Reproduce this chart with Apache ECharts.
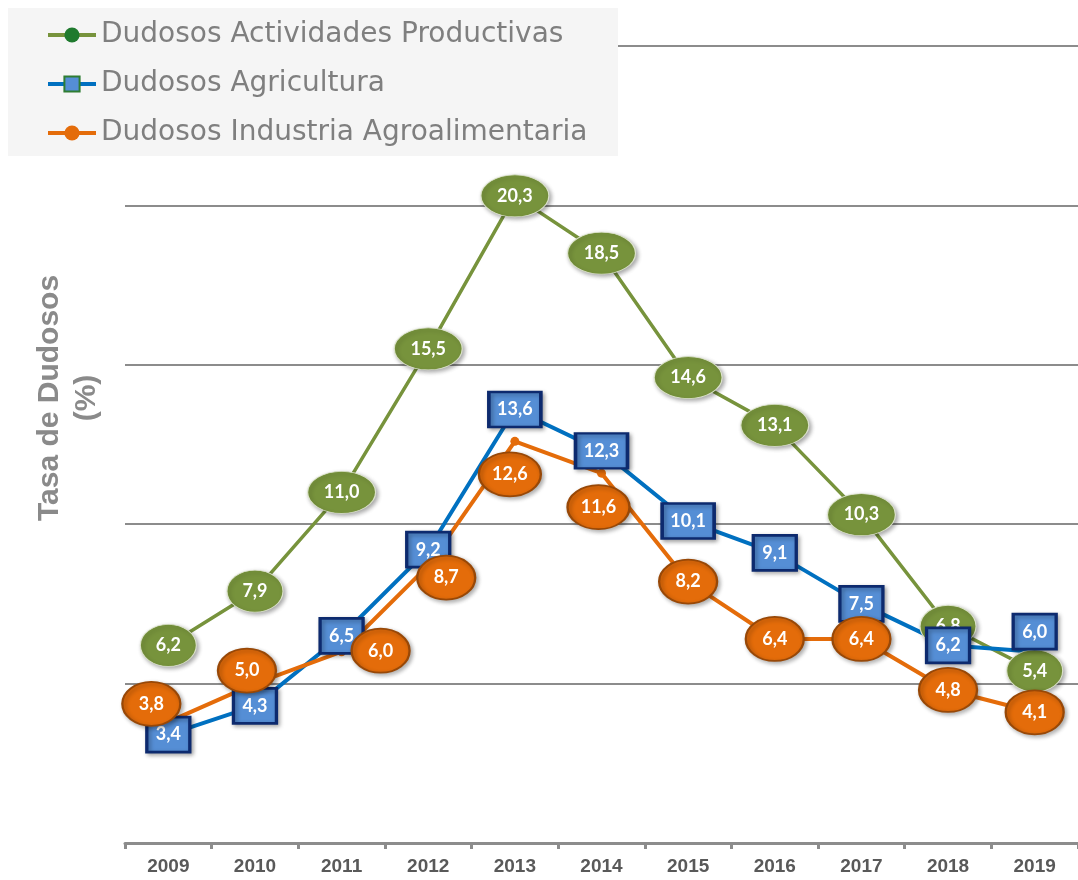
<!DOCTYPE html>
<html><head><meta charset="utf-8">
<script src="https://cdn.jsdelivr.net/npm/echarts@6/dist/echarts.min.js"></script>
<style>html,body{margin:0;padding:0;background:#fff}#c{width:1078px;height:880px}</style>
</head><body><div id="c"></div>
<script>
const years = ['2009', '2010', '2011', '2012', '2013', '2014', '2015', '2016', '2017', '2018', '2019'];
const actividades = [6.2, 7.9, 11.0, 15.5, 20.3, 18.5, 14.6, 13.1, 10.3, 6.8, 5.4];
const agricultura = [3.4, 4.3, 6.5, 9.2, 13.6, 12.3, 10.1, 9.1, 7.5, 6.2, 6.0];
const industria = [3.8, 5.0, 6.0, 8.7, 12.6, 11.6, 8.2, 6.4, 6.4, 4.8, 4.1];
const names = ['Dudosos Actividades Productivas', 'Dudosos Agricultura', 'Dudosos Industria Agroalimentaria'];

// pixel shifts of the label bubbles that the reference moves off their points
const industriaShift = {0: [-17, -18], 1: [-8, -13], 2: [39, -1], 3: [18, 12], 4: [-5, 33], 5: [-3, 34]};
const agriculturaShift = {10: [0, -20]};
const actividadesShift = {};

const ellipse = 'path://M0,50A50,50 0 1,1 100,50A50,50 0 1,1 0,50Z';
const fmt = p => Number(p.value).toFixed(1).replace('.', ',');

function bubbles(values, shift, small, big) {
  return values.map((v, i) => {
    const d = { value: v, symbolSize: v >= 10 ? big : small };
    if (shift[i]) d.symbolOffset = shift[i];
    return d;
  });
}

const labelStyle = { show: true, position: 'inside', color: '#ffffff', fontFamily: 'Lato', fontWeight: 'bold', fontSize: 18, formatter: fmt };
const noShadow = { shadowBlur: 0, shadowOffsetX: 0, shadowOffsetY: 0 };

const chart = echarts.init(document.getElementById('c'));
chart.setOption({
  animation: false,
  backgroundColor: '#ffffff',
  grid: { left: 125, top: 46, width: 960, height: 797, containLabel: false },
  graphic: [
    { type: 'rect', z: 3, shape: { x: 8, y: 8, width: 610, height: 148 }, style: { fill: '#f5f5f5' } },
    { type: 'text', z: 3, x: 68, y: 398, rotation: Math.PI / 2,
      style: { text: 'Tasa de Dudosos\n(%)', font: 'bold 30px "Liberation Sans", Arial', fill: '#8a8a8a',
               align: 'center', verticalAlign: 'middle', lineHeight: 37 } }
  ],
  legend: {
    orient: 'vertical', left: 46, top: 20, padding: 0, z: 10,
    itemWidth: 48, itemHeight: 19, itemGap: 19,
    textStyle: { fontFamily: 'DejaVu Sans', fontSize: 28, color: '#7f7f7f', lineHeight: 30 },
    data: [
      { name: names[0], itemStyle: Object.assign({ color: '#1f7a2e', borderWidth: 0, opacity: 1 }, noShadow), lineStyle: { color: '#77933c', width: 4 } },
      { name: names[1], itemStyle: Object.assign({ color: '#558ed5', borderColor: '#2e7d32', borderWidth: 2, opacity: 1 }, noShadow), lineStyle: { color: '#0070c0', width: 4 } },
      { name: names[2], itemStyle: Object.assign({ color: '#e46c0a', borderWidth: 0, opacity: 1 }, noShadow), lineStyle: { color: '#e46c0a', width: 4 } }
    ]
  },
  xAxis: {
    type: 'category', data: years, boundaryGap: true,
    axisLine: { lineStyle: { color: '#8c8c8c', width: 3 } },
    axisTick: { show: true, length: 6, lineStyle: { color: '#8c8c8c', width: 3 } },
    axisLabel: { margin: 14, color: '#595959', fontFamily: '"Liberation Sans", Arial', fontWeight: 'bold', fontSize: 19 },
    splitLine: { show: false }
  },
  yAxis: {
    type: 'value', min: 0, max: 25, interval: 5,
    axisLine: { show: false }, axisTick: { show: false }, axisLabel: { show: false },
    splitLine: { lineStyle: { color: '#8c8c8c', width: 2 } }
  },
  series: [
    { name: names[0], type: 'line', z: 2, data: actividades, symbol: 'circle', symbolSize: 9,
      lineStyle: { color: '#77933c', width: 3.5 }, itemStyle: { color: '#1f7a2e' } },
    { name: names[1], type: 'line', z: 2, data: agricultura, symbol: 'rect', symbolSize: 9,
      lineStyle: { color: '#0070c0', width: 4 }, itemStyle: { color: '#558ed5', borderColor: '#2e7d32', borderWidth: 1 } },
    { name: names[2], type: 'line', z: 2, data: industria, symbol: 'circle', symbolSize: 9,
      lineStyle: { color: '#e46c0a', width: 4 }, itemStyle: { color: '#e46c0a' } },
    {
      name: names[0], type: 'scatter', z: 3, symbol: ellipse,
      data: bubbles(actividades, actividadesShift, [56, 42], [68, 42]),
      itemStyle: { color: '#77933c', opacity: 1, borderColor: 'rgba(225,232,210,0.9)', borderWidth: 1,
                   shadowBlur: 4, shadowColor: 'rgba(0,0,0,0.35)', shadowOffsetX: 2, shadowOffsetY: 2 },
      label: labelStyle
    },
    {
      name: names[1], type: 'scatter', z: 4, symbol: 'rect',
      data: bubbles(agricultura, agriculturaShift, [43, 35], [52, 35]),
      itemStyle: { color: '#558ed5', opacity: 1, borderColor: '#0d2a6e', borderWidth: 3,
                   shadowBlur: 4, shadowColor: 'rgba(0,0,0,0.3)', shadowOffsetX: 2, shadowOffsetY: 2 },
      label: labelStyle
    },
    {
      name: names[2], type: 'scatter', z: 5, symbol: ellipse,
      data: bubbles(industria, industriaShift, [58, 44], [62, 44]),
      itemStyle: { color: '#e46c0a', opacity: 1, borderColor: '#984807', borderWidth: 2,
                   shadowBlur: 4, shadowColor: 'rgba(0,0,0,0.3)', shadowOffsetX: 2, shadowOffsetY: 2 },
      label: labelStyle
    }
  ]
});
</script>
</body></html>
